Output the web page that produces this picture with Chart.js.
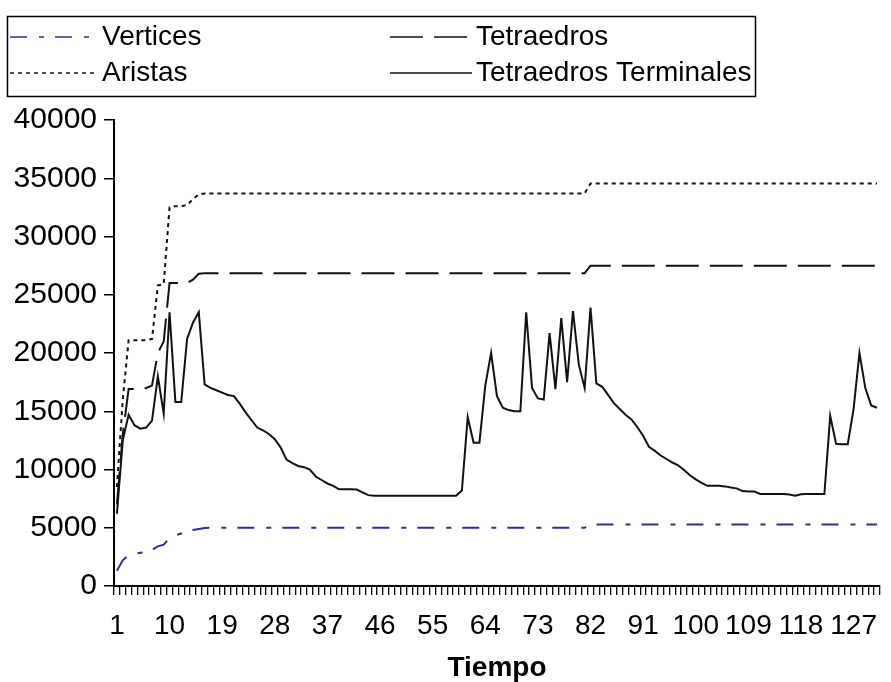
<!DOCTYPE html>
<html>
<head>
<meta charset="utf-8">
<script src="https://cdn.jsdelivr.net/npm/chart.js@4.4.1/dist/chart.umd.min.js"></script>
<style>
body{margin:0;background:#fff;}
#wrap{width:891px;height:682px;position:relative;}
</style>
</head>
<body>
<div id="wrap"><canvas id="myChart"></canvas></div>
<script>
// x categories: time steps 1..131
var tiempo = [];
for (var i = 1; i <= 131; i++) tiempo.push(String(i));

var xTickLabels = ['1','10','19','28','37','46','55','64','73','82','91','100','109','118','127'];
var yTicks = [0,5000,10000,15000,20000,25000,30000,35000,40000];

var vertices = [1300,2200,2650,2750,2850,2900,3100,3400,3550,4100,4350,4500,4600,4800,4900,4980,
  5000,5000,5000,5000,5000,5000,5000,5000,5000,5000,5000,5000,5000,
  5000,5000,5000,5000,5000,5000,5000,5000,5000,5000,5000,5000,5000,
  5000,5000,5000,5000,5000,5000,5000,5000,5000,5000,5000,5000,5000,
  5000,5000,5000,5000,5000,5000,5000,5000,5000,5000,5000,5000,5000,
  5000,5000,5000,5000,5000,5000,5000,5000,5000,5000,5000,5000,5000,
  5280,5280,5280,5280,5280,5280,5280,5280,5280,5280,
  5280,5280,5280,5280,5280,5280,5280,5280,5280,5280,
  5280,5280,5280,5280,5280,5280,5280,5280,5280,5280,
  5280,5280,5280,5280,5280,5280,5280,5280,5280,5280,
  5280,5280,5280,5280,5280,5280,5280,5280,5280,5280];

var aristas = [8500,16000,21100,21100,21100,21100,21200,25800,25900,32500,32600,32600,32700,33200,33600,
  33700,33700,33700,33700,33700,33700,33700,33700,33700,33700,33700,
  33700,33700,33700,33700,33700,33700,33700,33700,33700,33700,33700,
  33700,33700,33700,33700,33700,33700,33700,33700,33700,33700,33700,
  33700,33700,33700,33700,33700,33700,33700,33700,33700,33700,33700,
  33700,33700,33700,33700,33700,33700,33700,33700,33700,33700,33700,
  33700,33700,33700,33700,33700,33700,33700,33700,33700,33700,33700,
  34550,34550,34550,34550,34550,34550,34550,34550,34550,34550,
  34550,34550,34550,34550,34550,34550,34550,34550,34550,34550,
  34550,34550,34550,34550,34550,34550,34550,34550,34550,34550,
  34550,34550,34550,34550,34550,34550,34550,34550,34550,34550,
  34550,34550,34550,34550,34550,34550,34550,34550,34550,34550];

var tetraedros = [7000,13000,16900,16900,16900,17000,17200,20000,21000,26000,26000,26000,26000,26300,26800,
  26850,26850,26850,26850,26850,26850,26850,26850,26850,26850,26850,
  26850,26850,26850,26850,26850,26850,26850,26850,26850,26850,26850,
  26850,26850,26850,26850,26850,26850,26850,26850,26850,26850,26850,
  26850,26850,26850,26850,26850,26850,26850,26850,26850,26850,26850,
  26850,26850,26850,26850,26850,26850,26850,26850,26850,26850,26850,
  26850,26850,26850,26850,26850,26850,26850,26850,26850,26850,26850,
  27500,27500,27500,27500,27500,27500,27500,27500,27500,27500,
  27500,27500,27500,27500,27500,27500,27500,27500,27500,27500,
  27500,27500,27500,27500,27500,27500,27500,27500,27500,27500,
  27500,27500,27500,27500,27500,27500,27500,27500,27500,27500,
  27500,27500,27500,27500,27500,27500,27500,27500,27500,27500];

var terminales = [6200,12500,14700,13800,13500,13600,14200,18000,14800,23500,
  15800,15800,21200,22600,23500,17300,17000,16800,16600,16400,
  16300,15650,14900,14250,13600,13350,13050,12600,11900,10850,
  10550,10300,10200,10000,9400,9100,8800,8600,8300,8300,
  8300,8280,8030,7800,7750,7750,7750,7750,7750,7750,
  7750,7750,7750,7750,7750,7750,7750,7750,7750,8200,
  14500,12300,12300,17200,20000,16300,15300,15100,15000,15000,
  23500,17000,16100,16000,21700,16900,23000,17500,23600,19000,
  17000,23900,17400,17100,16400,15700,15200,14700,14300,13650,
  12900,11950,11600,11200,10900,10600,10350,9950,9500,9150,
  8850,8600,8600,8600,8550,8450,8380,8150,8120,8120,
  7900,7890,7890,7890,7890,7850,7750,7880,7890,7890,
  7890,7890,14600,12200,12170,12170,15200,20000,17000,15500,15300];

var FONT = "'Liberation Sans', Arial, sans-serif";
Chart.defaults.font.family = FONT;
Chart.defaults.color = '#000';

// legend drawn by hand: two columns inside a box, like the original
var legendBox = {
  id: 'legendBox',
  afterDraw: function(chart) {
    var ctx = chart.ctx;
    var ds = chart.data.datasets;
    // [dataset index, line start, line end, text x, y]
    var spots = [[0,10,98,102,37],[2,390,472,476,37],[1,10,98,102,73],[3,390,472,476,73]];
    ctx.save();
    ctx.strokeStyle = '#000';
    ctx.lineWidth = 1.5;
    ctx.setLineDash([]);
    ctx.strokeRect(7.5, 16.5, 748, 80);
    ctx.font = '28px ' + FONT;
    ctx.textBaseline = 'middle';
    ctx.fillStyle = '#000';
    spots.forEach(function(s) {
      var d = ds[s[0]];
      ctx.beginPath();
      ctx.setLineDash(d.borderDash || []);
      ctx.strokeStyle = d.borderColor;
      ctx.lineWidth = d.borderWidth;
      ctx.moveTo(s[1], s[4]);
      ctx.lineTo(s[2], s[4]);
      ctx.stroke();
      ctx.setLineDash([]);
      ctx.fillText(d.label, s[3], s[4]);
    });
    ctx.restore();
  }
};

var ctx = document.getElementById('myChart').getContext('2d');
var chart = new Chart(ctx, {
  type: 'line',
  data: {
    labels: tiempo,
    datasets: [
      {label: 'Vertices', data: vertices, borderColor: '#2e2e99', borderDash: [17,12,5,11]},
      {label: 'Aristas', data: aristas, borderColor: '#111', borderDash: [4,4]},
      {label: 'Tetraedros', data: tetraedros, borderColor: '#111', borderDash: [33,11]},
      {label: 'Tetraedros Terminales', data: terminales, borderColor: '#111', borderDash: []}
    ]
  },
  options: {
    responsive: true,
    maintainAspectRatio: false,
    animation: false,
    layout: {padding: {top: 120, right: 1, bottom: 0, left: 0}},
    elements: {
      line: {borderWidth: 2, tension: 0, fill: false},
      point: {radius: 0}
    },
    plugins: {legend: {display: false}, tooltip: {enabled: false}},
    scales: {
      x: {
        type: 'category',
        offset: true,
        grid: {offset: true, drawOnChartArea: false, tickLength: 9, color: '#000', lineWidth: 1.3},
        border: {color: '#000', width: 2},
        ticks: {
          autoSkip: false, maxRotation: 0, minRotation: 0, padding: 14,
          font: {size: 28},
          callback: function(v) {
            var l = this.getLabelForValue(v);
            return xTickLabels.indexOf(l) > -1 ? l : '';
          }
        },
        title: {display: true, text: 'Tiempo', font: {size: 28, weight: 'bold', lineHeight: 1}, padding: {top: 0, bottom: 0}},
        afterFit: function(s) { s.height = 96; }
      },
      y: {
        min: 0, max: 40000,
        afterBuildTicks: function(s) { s.ticks = yTicks.map(function(v) { return {value: v}; }); },
        grid: {drawOnChartArea: false, tickLength: 10, color: '#000', lineWidth: 1.5},
        border: {color: '#000', width: 2},
        ticks: {padding: 7, font: {size: 30}, callback: function(v) { return String(v); }},
        afterFit: function(s) { s.width = 114; }
      }
    }
  },
  plugins: [legendBox]
});
</script>
</body>
</html>
